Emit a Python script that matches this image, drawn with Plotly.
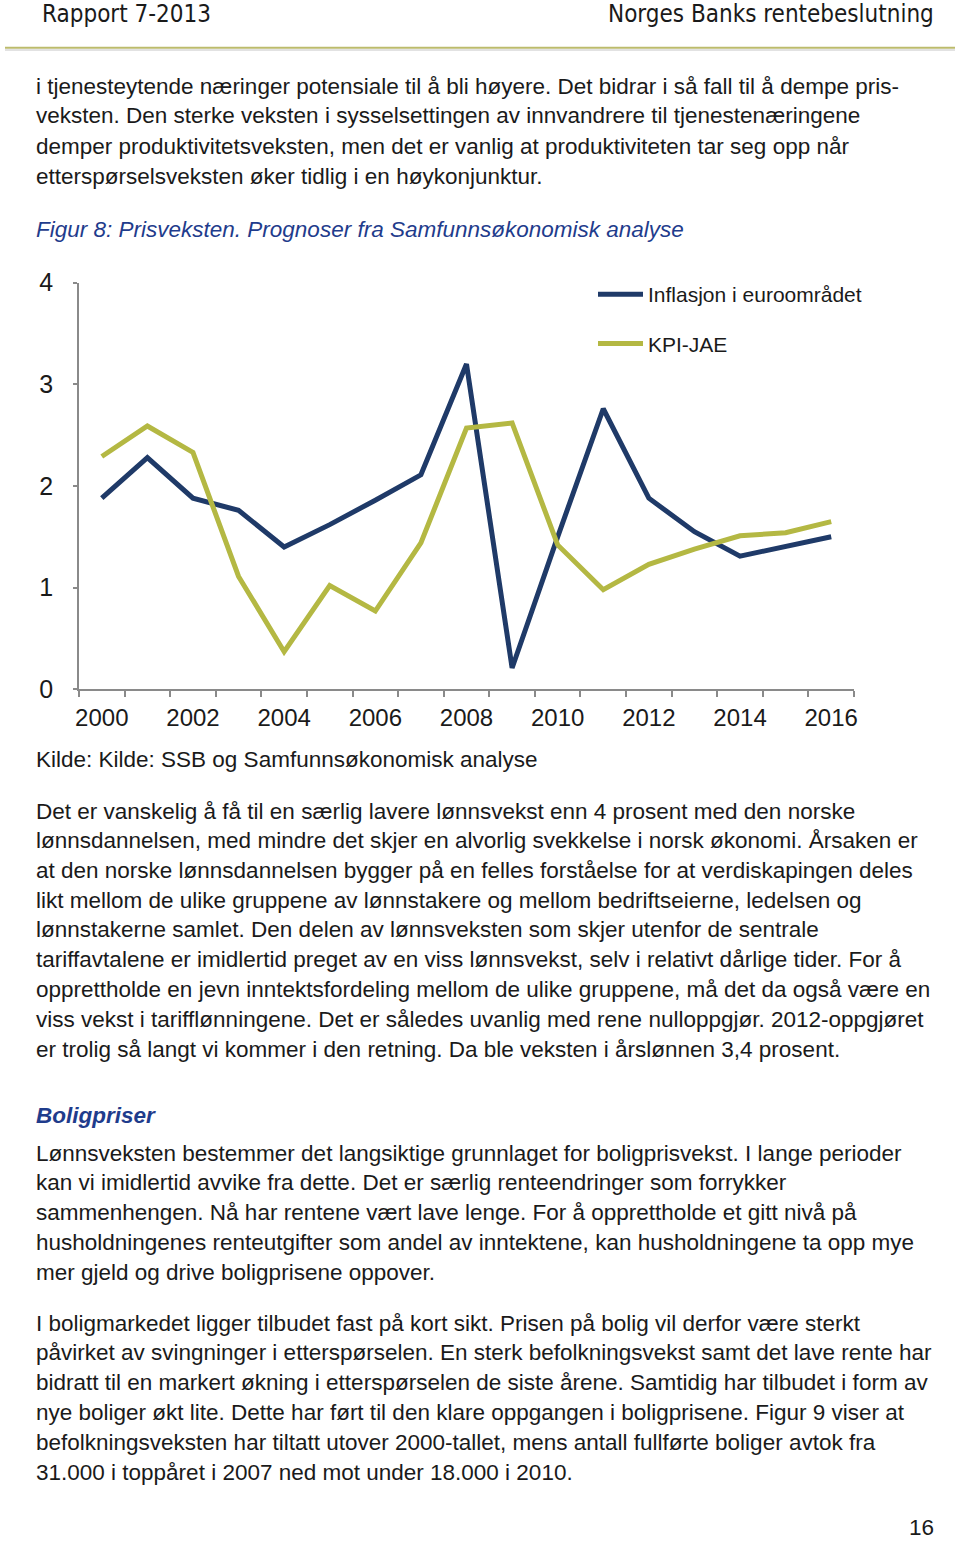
import plotly.graph_objects as go

# ---------------- data ----------------
years = list(range(2000, 2017))
euro_inflation = [1.88, 2.28, 1.88, 1.76, 1.40, 1.62, 1.86, 2.11, 3.20, 0.21, 1.50,
                  2.76, 1.88, 1.55, 1.31, 1.40, 1.50]
kpi_jae = [2.29, 2.59, 2.33, 1.11, 0.37, 1.02, 0.77, 1.44, 2.57, 2.62, 1.42,
           0.98, 1.23, 1.38, 1.51, 1.54, 1.65]
series_names = ["Inflasjon i euroområdet", "KPI-JAE"]
x_tick_years = [2000, 2002, 2004, 2006, 2008, 2010, 2012, 2014, 2016]
y_ticks = [0, 1, 2, 3, 4]

header_left = "Rapport 7-2013"
header_right = "Norges Banks rentebeslutning"
para1 = [
    "i tjenesteytende næringer potensiale til å bli høyere. Det bidrar i så fall til å dempe pris-",
    "veksten. Den sterke veksten i sysselsettingen av innvandrere til tjenestenæringene",
    "demper produktivitetsveksten, men det er vanlig at produktiviteten tar seg opp når",
    "etterspørselsveksten øker tidlig i en høykonjunktur.",
]
fig_title = "Figur 8: Prisveksten. Prognoser fra Samfunnsøkonomisk analyse"
source = "Kilde: Kilde: SSB og Samfunnsøkonomisk analyse"
para2 = [
    "Det er vanskelig å få til en særlig lavere lønnsvekst enn 4 prosent med den norske",
    "lønnsdannelsen, med mindre det skjer en alvorlig svekkelse i norsk økonomi. Årsaken er",
    "at den norske lønnsdannelsen bygger på en felles forståelse for at verdiskapingen deles",
    "likt mellom de ulike gruppene av lønnstakere og mellom bedriftseierne, ledelsen og",
    "lønnstakerne samlet. Den delen av lønnsveksten som skjer utenfor de sentrale",
    "tariffavtalene er imidlertid preget av en viss lønnsvekst, selv i relativt dårlige tider. For å",
    "opprettholde en jevn inntektsfordeling mellom de ulike gruppene, må det da også være en",
    "viss vekst i tarifflønningene. Det er således uvanlig med rene nulloppgjør. 2012-oppgjøret",
    "er trolig så langt vi kommer i den retning. Da ble veksten i årslønnen 3,4 prosent.",
]
heading = "Boligpriser"
para3 = [
    "Lønnsveksten bestemmer det langsiktige grunnlaget for boligprisvekst. I lange perioder",
    "kan vi imidlertid avvike fra dette. Det er særlig renteendringer som forrykker",
    "sammenhengen. Nå har rentene vært lave lenge. For å opprettholde et gitt nivå på",
    "husholdningenes renteutgifter som andel av inntektene, kan husholdningene ta opp mye",
    "mer gjeld og drive boligprisene oppover.",
]
para4 = [
    "I boligmarkedet ligger tilbudet fast på kort sikt. Prisen på bolig vil derfor være sterkt",
    "påvirket av svingninger i etterspørselen. En sterk befolkningsvekst samt det lave rente har",
    "bidratt til en markert økning i etterspørselen de siste årene. Samtidig har tilbudet i form av",
    "nye boliger økt lite. Dette har ført til den klare oppgangen i boligprisene. Figur 9 viser at",
    "befolkningsveksten har tiltatt utover 2000-tallet, mens antall fullførte boliger avtok fra",
    "31.000 i toppåret i 2007 ned mot under 18.000 i 2010.",
]
page_number = "16"

# ---------------- style ----------------
W, H = 960, 1541
FONT = "Liberation Sans, Arial, Helvetica, sans-serif"
NARROW = "DejaVu Sans Condensed, Liberation Sans Narrow, sans-serif"
TXT = "#1a1a1a"
BLUE_TXT = "#1f3c8c"
EURO_C = "#1f3a68"
KPI_C = "#b4b843"
AXIS_C = "#8a8a8a"
BODY = 22.5


def px(x):
    return x / W


def py(y):
    return 1 - y / H


fig = go.Figure()
fig.add_trace(go.Scatter(x=years, y=euro_inflation, mode="lines", name=series_names[0],
                         legendgroup="a", line=dict(color=EURO_C, width=5)))
fig.add_trace(go.Scatter(x=years, y=kpi_jae, mode="lines", name=series_names[1],
                         legendgroup="b", line=dict(color=KPI_C, width=5)))

annotations = []


def text(s, x, y, size=BODY, color=TXT, anchor="left", family=FONT):
    annotations.append(dict(text=s, x=px(x), y=py(y), xref="paper", yref="paper",
                            xanchor=anchor, yanchor="middle", showarrow=False,
                            borderpad=0, borderwidth=0,
                            font=dict(family=family, size=size, color=color)))


text(header_left, 42, 14, size=24, family=NARROW)
text(header_right, 934, 14, size=24, family=NARROW, anchor="right")
for i, s in enumerate(para1):
    text(s, 36, 86 + i * 30)
text("<i>" + fig_title + "</i>", 36, 229, color=BLUE_TXT)
text(source, 36, 760)
for i, s in enumerate(para2):
    text(s, 36, 811 + i * 29.75)
text("<b><i>" + heading + "</i></b>", 36, 1115, color=BLUE_TXT)
for i, s in enumerate(para3):
    text(s, 36, 1153 + i * 29.8)
for i, s in enumerate(para4):
    text(s, 36, 1323 + i * 29.8)
text(page_number, 934, 1527, anchor="right")

shapes = [
    dict(type="line", xref="paper", yref="paper", x0=px(5), x1=px(955), y0=py(50), y1=py(50),
         line=dict(color="#e2e2e2", width=2)),
    dict(type="line", xref="paper", yref="paper", x0=px(5), x1=px(955), y0=py(47.7), y1=py(47.7),
         line=dict(color="#bcbb6c", width=2)),
]

y0_px, y4_px = 689.3, 282.7
fig.update_layout(
    template="none",
    width=W, height=H, autosize=False,
    margin=dict(l=0, r=0, t=0, b=0, pad=0, autoexpand=False),
    paper_bgcolor="white", plot_bgcolor="white",
    showlegend=True,
    legend=dict(x=px(593), y=py(274), xanchor="left", yanchor="top",
                font=dict(family=FONT, size=21, color=TXT),
                tracegroupgap=19, itemwidth=45, bgcolor="rgba(0,0,0,0)",
                borderwidth=0, traceorder="grouped"),
    annotations=annotations,
    shapes=shapes,
    xaxis=dict(domain=[px(79), px(854)], range=[1999.5, 2016.5], automargin=False,
               tickmode="array", tickvals=x_tick_years,
               ticktext=[str(v) for v in x_tick_years],
               ticks="", showline=True, linecolor=AXIS_C, linewidth=1.5,
               showgrid=False, zeroline=False, ticklabelstandoff=6,
               tickfont=dict(family=FONT, size=24, color=TXT),
               minor=dict(tickmode="array", tickvals=[v - 0.5 for v in years] + [years[-1] + 0.5],
                          ticks="outside", ticklen=6, tickcolor=AXIS_C, tickwidth=1.5,
                          showgrid=False)),
    yaxis=dict(domain=[py(y0_px), py(y4_px)], range=[0, 4], automargin=False,
               tickmode="array", tickvals=y_ticks, ticktext=[str(v) for v in y_ticks],
               ticks="outside", ticklen=4, tickcolor=AXIS_C, tickwidth=1.5,
               showline=True, linecolor=AXIS_C, linewidth=1.5,
               showgrid=False, zeroline=False, ticklabelstandoff=15,
               tickfont=dict(family=FONT, size=25, color=TXT)),
)

fig.write_html(
    "out.html",
    config={"displayModeBar": False},
    post_script="document.body.style.margin='0';document.body.style.padding='0';"
                "document.documentElement.style.overflow='hidden';",
)
